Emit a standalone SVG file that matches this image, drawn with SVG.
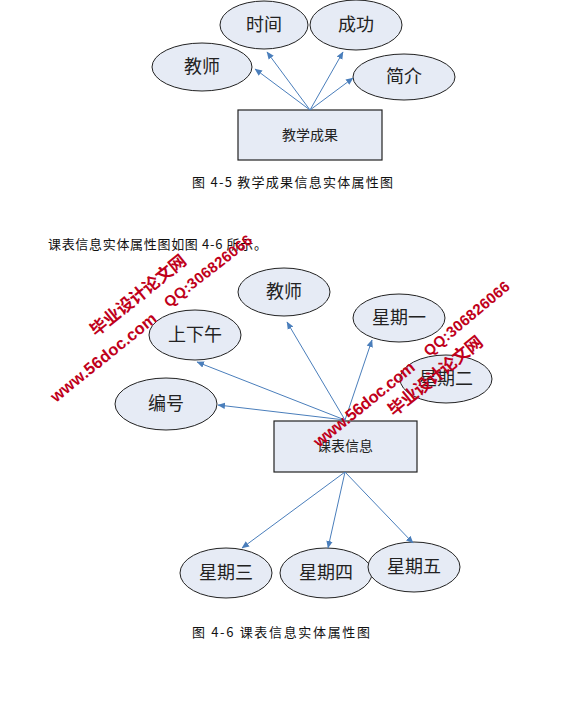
<svg xmlns="http://www.w3.org/2000/svg" width="586" height="705" viewBox="0 0 586 705">
<defs>
<marker id="ah" markerWidth="8" markerHeight="8" refX="7" refY="4" orient="auto" markerUnits="userSpaceOnUse">
<path d="M0,0.8 L7.5,4 L0,7.2 Z" fill="#4a7ebb"/>
</marker>
<style>
.ell{fill:#e6ebf5;stroke:#222;stroke-width:1}
.box{fill:#e6ebf5;stroke:#222;stroke-width:1.2}
.lbl{font-family:"Noto Sans CJK SC","Liberation Sans",sans-serif;font-size:18px;fill:#222;text-anchor:middle}
.blbl{font-family:"Noto Sans CJK SC","Liberation Sans",sans-serif;font-size:14px;fill:#222;text-anchor:middle}
.cap{font-family:"Noto Sans CJK SC","Liberation Sans",sans-serif;font-size:13px;fill:#111}
.con line{stroke:#4a7ebb;stroke-width:1;marker-end:url(#ah)}
.wm{font-family:"Liberation Sans","Noto Sans CJK SC",sans-serif;font-weight:bold;fill:#c0001a}
.wmc{font-family:"Noto Sans CJK SC",sans-serif;font-weight:bold;fill:#c0001a}
</style>
</defs>
<rect width="586" height="705" fill="#fff"/>

<!-- Figure 4-5 -->
<g id="n_shijian"><ellipse class="ell" cx="264" cy="25" rx="44" ry="24"/><text class="lbl" x="264" y="31">时间</text></g>
<g id="n_chenggong"><ellipse class="ell" cx="356" cy="25" rx="46" ry="25"/><text class="lbl" x="356" y="31">成功</text></g>
<g id="n_jiaoshi1"><ellipse class="ell" cx="202" cy="67" rx="50" ry="24"/><text class="lbl" x="202" y="73">教师</text></g>
<g id="n_jianjie"><ellipse class="ell" cx="404" cy="77" rx="51" ry="23"/><text class="lbl" x="404" y="83">简介</text></g>
<g id="n_jxcg"><rect class="box" x="238" y="110" width="144" height="50"/><text class="blbl" x="310" y="140">教学成果</text></g>
<g id="conn1" class="con">
<line x1="310" y1="110" x2="255" y2="69"/>
<line x1="310" y1="110" x2="267" y2="52"/>
<line x1="310" y1="110" x2="343" y2="52"/>
<line x1="310" y1="110" x2="353" y2="78"/>
</g>
<text class="cap" x="192" y="187" textLength="201">图 4-5 教学成果信息实体属性图</text>

<text class="cap" x="48" y="249" textLength="219">课表信息实体属性图如图 4-6 所示。</text>

<!-- Figure 4-6 -->
<g id="n_jiaoshi2"><ellipse class="ell" cx="284" cy="292" rx="46" ry="24"/><text class="lbl" x="284" y="298">教师</text></g>
<g id="n_xq1"><ellipse class="ell" cx="399" cy="318" rx="46" ry="24"/><text class="lbl" x="399" y="324">星期一</text></g>
<g id="n_sxw"><ellipse class="ell" cx="195" cy="335" rx="46" ry="25"/><text class="lbl" x="195" y="341">上下午</text></g>
<g id="n_xq2"><ellipse class="ell" cx="446" cy="379" rx="46" ry="24"/><text class="lbl" x="446" y="385">星期二</text></g>
<g id="n_bh"><ellipse class="ell" cx="166" cy="404" rx="51" ry="26"/><text class="lbl" x="166" y="410">编号</text></g>
<g id="n_kbxx"><rect class="box" x="274" y="421" width="143" height="51"/><text class="blbl" x="345" y="451">课表信息</text></g>
<g id="n_xq3"><ellipse class="ell" cx="226" cy="573" rx="46" ry="25"/><text class="lbl" x="226" y="579">星期三</text></g>
<g id="n_xq4"><ellipse class="ell" cx="326" cy="573" rx="46" ry="25"/><text class="lbl" x="326" y="579">星期四</text></g>
<g id="n_xq5"><ellipse class="ell" cx="414" cy="567" rx="46" ry="25"/><text class="lbl" x="414" y="573">星期五</text></g>
<g id="conn2" class="con">
<line x1="345" y1="420" x2="218" y2="405"/>
<line x1="345" y1="420" x2="197" y2="362"/>
<line x1="345" y1="420" x2="287" y2="322"/>
<line x1="345" y1="420" x2="372" y2="340"/>
<line x1="345" y1="472" x2="242" y2="548"/>
<line x1="345" y1="472" x2="328" y2="548"/>
<line x1="345" y1="472" x2="413" y2="543"/>
</g>
<text class="cap" x="192" y="637" textLength="178">图 4-6 课表信息实体属性图</text>

<!-- watermarks -->
<g id="watermark">
<text class="wmc" font-size="17" transform="translate(96,337) rotate(-39)" textLength="118">毕业设计论文网</text>
<text class="wm" font-size="16.5" transform="translate(56,403) rotate(-39)" textLength="131">www.56doc.com</text>
<text class="wm" font-size="15" transform="translate(169,308) rotate(-38)" textLength="107">QQ:306826066</text>
<text class="wmc" font-size="17" transform="translate(394,417) rotate(-39)" textLength="116">毕业设计论文网</text>
<text class="wm" font-size="16.5" transform="translate(319,448) rotate(-39)" textLength="125">www.56doc.com</text>
<text class="wm" font-size="15" transform="translate(429,357) rotate(-40)" textLength="107">QQ:306826066</text>
</g>
</svg>
